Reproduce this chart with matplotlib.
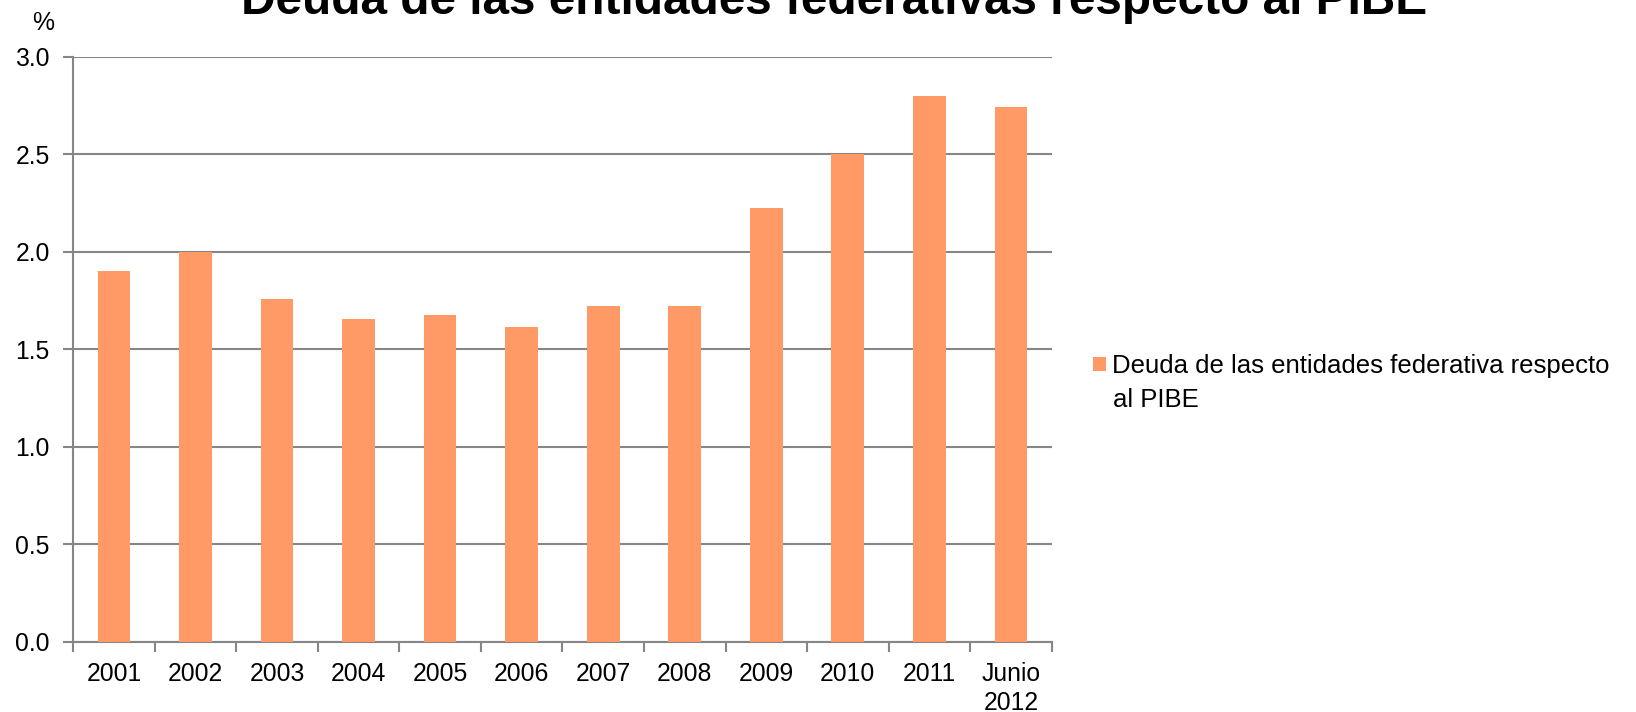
import numpy as np
import matplotlib
matplotlib.use('Agg')
import matplotlib.pyplot as plt

# datos
categorias = ['2001', '2002', '2003', '2004', '2005', '2006', '2007', '2008',
              '2009', '2010', '2011', 'Junio\n2012']
deuda = [1.90, 2.00, 1.76, 1.655, 1.675, 1.615, 1.72, 1.72, 2.225, 2.50, 2.80, 2.745]
yticks = [0.0, 0.5, 1.0, 1.5, 2.0, 2.5, 3.0]

titulo = 'Deuda de las entidades federativas respecto al PIBE'
etiqueta = 'Deuda de las entidades federativa respecto'
etiqueta2 = 'al PIBE'

plt.rcParams['font.family'] = ['Liberation Sans', 'DejaVu Sans']

gris = '#868686'
naranja = '#FF9966'

fig = plt.figure(figsize=(16.36, 7.12), dpi=100)
ax = fig.add_axes([0.0448, 0.099, 0.598, 0.821])

x = np.arange(len(categorias))
ax.bar(x, deuda, width=0.4, color=naranja, label=etiqueta, zorder=3)

ax.set_xlim(-0.5, len(categorias) - 0.5)
ax.set_ylim(0, 3.0)
ax.set_yticks(yticks)
ax.set_yticklabels(['%.1f' % v for v in yticks], fontsize=17.8)
ax.yaxis.grid(True, color=gris, linewidth=1.5, zorder=0)

ax.set_xticks(x)
ax.set_xticklabels(categorias, fontsize=17.8, linespacing=1.25)
ax.set_xticks(np.arange(-0.5, len(categorias)), minor=True)
ax.tick_params(axis='x', which='major', length=0, pad=15)
ax.tick_params(axis='x', which='minor', length=7, width=1.5, color=gris, direction='out')
ax.tick_params(axis='y', length=7, width=1.5, color=gris, pad=10)

for s in ['top', 'right']:
    ax.spines[s].set_visible(False)
for s in ['left', 'bottom']:
    ax.spines[s].set_color(gris)
    ax.spines[s].set_linewidth(1.5)

fig.text(0.0263, 0.968, '%', fontsize=17.8, ha='center', va='center')
fig.text(0.51, 1 - 14 / 712, titulo, fontsize=34.4, fontweight='bold',
         ha='center', va='baseline')

# leyenda: cuadro alineado con la primera linea
fig.legend(loc='center left', bbox_to_anchor=(0.668, 0.486), frameon=False,
           fontsize=18.5, handlelength=0.5, handleheight=0.5, handletextpad=0.25,
           borderpad=0, borderaxespad=0)
fig.text(0.6803, 1 - 406.7 / 712, etiqueta2, fontsize=18.5, ha='left', va='baseline')

fig.savefig('out.png', dpi=100)
